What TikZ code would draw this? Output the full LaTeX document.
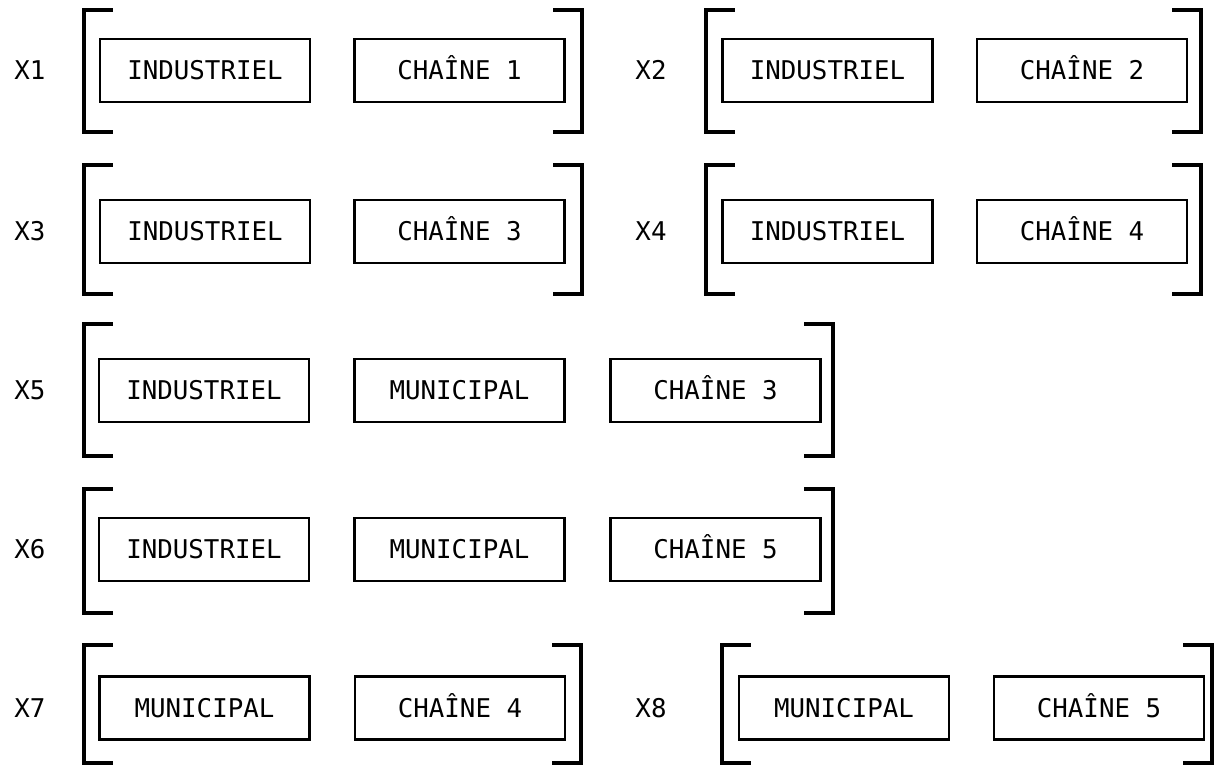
\documentclass[tikz,border=0pt]{standalone}
\usepackage{fontspec}
\setmonofont{DejaVu Sans Mono}
\newcommand{\bracketpair}[4]{%
  \draw[brk] (#1+27,#3) -- (#1,#3) -- (#1,#4) -- (#1+27,#4);
  \draw[brk] (#2-27,#3) -- (#2,#3) -- (#2,#4) -- (#2-27,#4);}
\begin{document}
\begin{tikzpicture}[x=0.5pt,y=-0.5pt,
  txt/.style={font=\ttfamily\fontsize{12.9}{14}\selectfont, inner sep=0pt,
    text height=9.4pt, text depth=0pt},
  cell/.style={txt, draw, line width=1.25pt, minimum width=105pt, minimum height=31.5pt},
  brk/.style={line width=1.6pt, line cap=rect}]
\useasboundingbox (0,0) rectangle (1216,774);
% ---- row 1
\node[txt] (x1) at (30,70.5) {X1};
\node[cell] (x1a) at (205,70.5) {INDUSTRIEL};
\node[cell] (x1b) at (459.5,70.5) {CHAÎNE 1};
\bracketpair{84}{582}{10}{132}
\node[txt] (x2) at (651,70.5) {X2};
\node[cell] (x2a) at (827.5,70.5) {INDUSTRIEL};
\node[cell] (x2b) at (1082,70.5) {CHAÎNE 2};
\bracketpair{706}{1201}{10}{132}
% ---- row 2
\node[txt] (x3) at (30,231.5) {X3};
\node[cell] (x3a) at (205,231.5) {INDUSTRIEL};
\node[cell] (x3b) at (459.5,231.5) {CHAÎNE 3};
\bracketpair{84}{582}{165}{294}
\node[txt] (x4) at (651,231.5) {X4};
\node[cell] (x4a) at (827.5,231.5) {INDUSTRIEL};
\node[cell] (x4b) at (1082,231.5) {CHAÎNE 4};
\bracketpair{706}{1201}{165}{294}
% ---- row 3
\node[txt] (x5) at (30,390.5) {X5};
\node[cell] (x5a) at (204,390.5) {INDUSTRIEL};
\node[cell] (x5b) at (459.5,390.5) {MUNICIPAL};
\node[cell] (x5c) at (715.5,390.5) {CHAÎNE 3};
\bracketpair{84}{833}{324}{456}
% ---- row 4
\node[txt] (x6) at (30,549.5) {X6};
\node[cell] (x6a) at (204,549.5) {INDUSTRIEL};
\node[cell] (x6b) at (459.5,549.5) {MUNICIPAL};
\node[cell] (x6c) at (715.5,549.5) {CHAÎNE 5};
\bracketpair{84}{833}{489}{613}
% ---- row 5
\node[txt] (x7) at (30,708) {X7};
\node[cell] (x7a) at (204.5,708) {MUNICIPAL};
\node[cell] (x7b) at (460,708) {CHAÎNE 4};
\bracketpair{84}{581}{645}{763}
\node[txt] (x8) at (651,708) {X8};
\node[cell] (x8a) at (844,708) {MUNICIPAL};
\node[cell] (x8b) at (1099,708) {CHAÎNE 5};
\bracketpair{722}{1212}{645}{763}
\end{tikzpicture}
\end{document}
